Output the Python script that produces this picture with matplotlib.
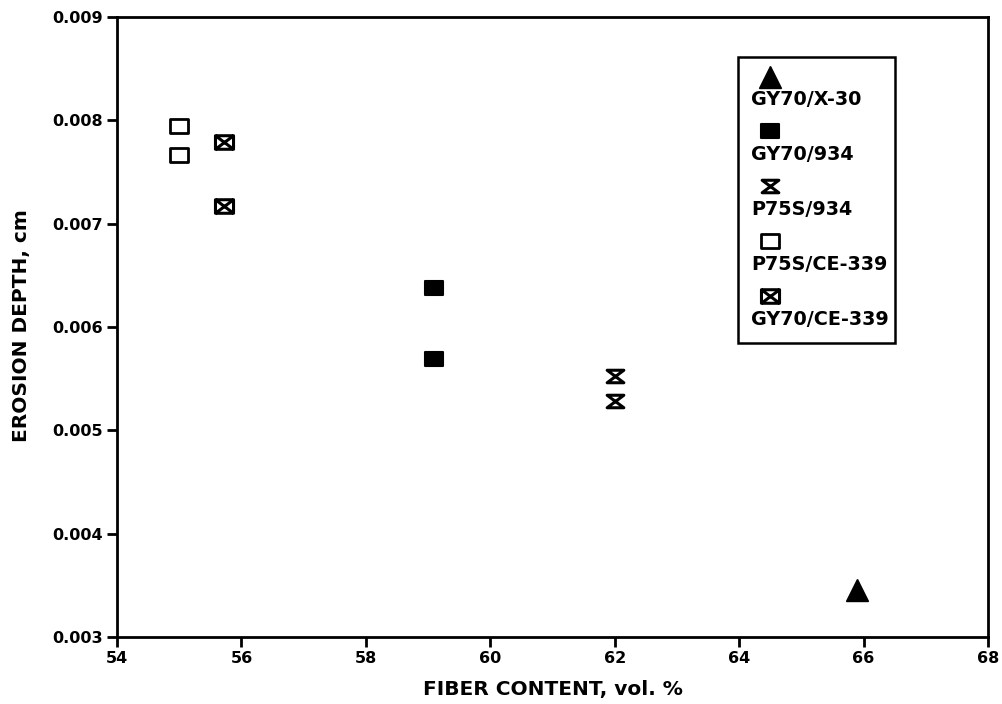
import matplotlib
matplotlib.use("Agg")
import matplotlib.pyplot as plt
from matplotlib.path import Path
from matplotlib.patches import Rectangle

plt.rcParams['font.family'] = ['DejaVu Sans']
plt.rcParams['font.weight'] = 'bold'

# Data
series_names = ["GY70/X-30", "GY70/934", "P75S/934", "P75S/CE-339", "GY70/CE-339"]
x_gy70_x30 = [65.9]
y_gy70_x30 = [0.00345]
x_gy70_934 = [59.1, 59.1]
y_gy70_934 = [0.00638, 0.00569]
x_p75s_934 = [62.0, 62.0]
y_p75s_934 = [0.00553, 0.00528]
x_p75s_ce339 = [55.0, 55.0]
y_p75s_ce339 = [0.00794, 0.00766]
x_gy70_ce339 = [55.72, 55.72]
y_gy70_ce339 = [0.00779, 0.00717]
x_ticks = [54, 56, 58, 60, 62, 64, 66, 68]
y_ticks = [0.003, 0.004, 0.005, 0.006, 0.007, 0.008, 0.009]

# Custom marker paths
rect_verts = [(-1, -0.75), (1, -0.75), (1, 0.75), (-1, 0.75), (-1, -0.75)]
rect_path = Path(rect_verts, [Path.MOVETO, Path.LINETO, Path.LINETO, Path.LINETO, Path.CLOSEPOLY])
hour_verts = [(-1, 0.75), (1, 0.75), (-1, -0.75), (1, -0.75), (-1, 0.75)]
hour_path = Path(hour_verts, [Path.MOVETO, Path.LINETO, Path.LINETO, Path.LINETO, Path.CLOSEPOLY])
cross_verts = rect_verts + [(-1, -0.75), (1, 0.75), (-1, 0.75), (1, -0.75)]
cross_codes = [Path.MOVETO, Path.LINETO, Path.LINETO, Path.LINETO, Path.CLOSEPOLY,
               Path.MOVETO, Path.LINETO, Path.MOVETO, Path.LINETO]
cross_path = Path(cross_verts, cross_codes)

styles = [
    dict(marker='^', ms=16, mfc='black', mec='black', mew=1),
    dict(marker=rect_path, ms=13, mfc='black', mec='black', mew=1.5),
    dict(marker=hour_path, ms=12, mfc='none', mec='black', mew=2.2),
    dict(marker=rect_path, ms=13, mfc='none', mec='black', mew=2),
    dict(marker=cross_path, ms=13, mfc='none', mec='black', mew=2.2),
]
data = [(x_gy70_x30, y_gy70_x30), (x_gy70_934, y_gy70_934), (x_p75s_934, y_p75s_934),
        (x_p75s_ce339, y_p75s_ce339), (x_gy70_ce339, y_gy70_ce339)]

fig = plt.figure(figsize=(10.02, 7.04), dpi=100)
ax = fig.add_axes([0.1168, 0.0952, 0.986 - 0.1168, 0.976 - 0.0952])

for (xs, ys), st in zip(data, styles):
    ax.plot(xs, ys, linestyle='none', **st)

ax.set_xlim(54, 68)
ax.set_ylim(0.003, 0.009)
ax.set_xticks(x_ticks)
ax.set_yticks(y_ticks)
ax.set_xticklabels([str(v) for v in x_ticks])
ax.set_yticklabels([f"{v:.3f}" for v in y_ticks])
ax.tick_params(direction='out', length=7, width=2, labelsize=11.5, pad=3)
for lab in ax.get_xticklabels() + ax.get_yticklabels():
    lab.set_fontweight('bold')
for sp in ax.spines.values():
    sp.set_linewidth(2)

ax.set_xlabel("FIBER CONTENT, vol. %", fontsize=14.5, fontweight='bold')
ax.set_ylabel("EROSION DEPTH, cm", fontsize=14.5, fontweight='bold')
ax.xaxis.set_label_coords(0.5, -0.069)
ax.yaxis.set_label_coords(-0.099, 0.503)

# Manual legend (axes coordinates)
def ax_px(px, py):
    x0, x1 = 117, 988
    y0, y1 = 637, 17
    return ((px - x0) / (x1 - x0), (y0 - py) / (y0 - y1))

bx0, by0 = ax_px(738, 343)
bx1, by1 = ax_px(895, 57)
ax.add_patch(Rectangle((bx0, by0), bx1 - bx0, by1 - by0, transform=ax.transAxes,
                       fill=False, edgecolor='black', linewidth=1.8, zorder=5))
marker_y = [77, 131, 186, 241, 296]
label_y = [100, 155, 210, 265, 320]
for name, st, my, ly in zip(series_names, styles, marker_y, label_y):
    mx, myy = ax_px(770, my)
    ax.plot([mx], [myy], transform=ax.transAxes, linestyle='none', zorder=6, clip_on=False, **st)
    tx, ty = ax_px(751, ly)
    ax.text(tx, ty, name, transform=ax.transAxes, fontsize=13.8, fontweight='bold',
            ha='left', va='center', zorder=6)

fig.savefig("out.png", dpi=100)
